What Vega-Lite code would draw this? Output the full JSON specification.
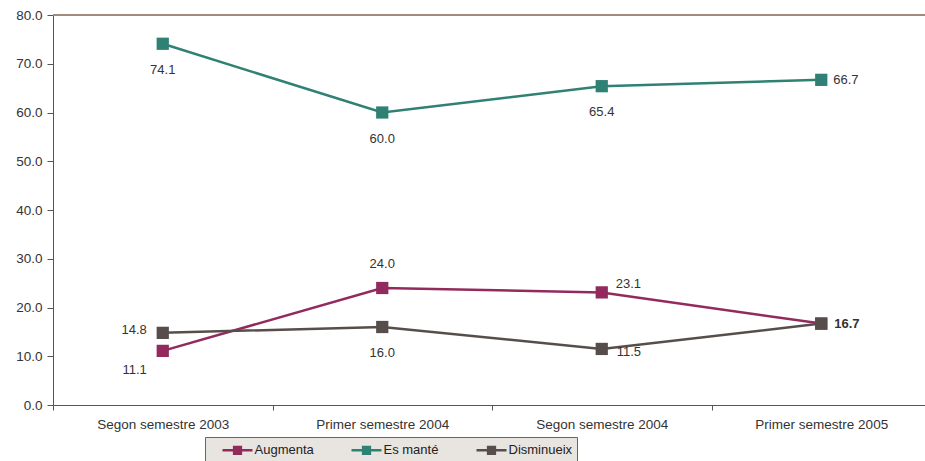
{
  "$schema": "https://vega.github.io/schema/vega-lite/v6.json",
  "autosize": {"type": "none"},
  "padding": {"left": 53, "top": 15, "right": 0, "bottom": 56},
  "width": 878,
  "height": 390,
  "background": "white",
  "config": {
    "view": {"stroke": null},
    "font": "Liberation Sans",
    "axis": {"labelFont": "Liberation Sans", "labelFontSize": 13.5, "labelColor": "#333333", "domainColor": "#555555", "tickColor": "#555555", "grid": false, "title": null}
  },
  "data": {"values": [
    {"periode": "Segon semestre 2003", "serie": "Augmenta", "valor": 11.1},
    {"periode": "Primer semestre 2004", "serie": "Augmenta", "valor": 24.0},
    {"periode": "Segon semestre 2004", "serie": "Augmenta", "valor": 23.1},
    {"periode": "Primer semestre 2005", "serie": "Augmenta", "valor": 16.7},
    {"periode": "Segon semestre 2003", "serie": "Es manté", "valor": 74.1},
    {"periode": "Primer semestre 2004", "serie": "Es manté", "valor": 60.0},
    {"periode": "Segon semestre 2004", "serie": "Es manté", "valor": 65.4},
    {"periode": "Primer semestre 2005", "serie": "Es manté", "valor": 66.7},
    {"periode": "Segon semestre 2003", "serie": "Disminueix", "valor": 14.8},
    {"periode": "Primer semestre 2004", "serie": "Disminueix", "valor": 16.0},
    {"periode": "Segon semestre 2004", "serie": "Disminueix", "valor": 11.5},
    {"periode": "Primer semestre 2005", "serie": "Disminueix", "valor": 16.7}
  ]},
  "encoding": {
    "x": {"field": "periode", "type": "nominal", "sort": null,
      "scale": {"paddingInner": 0, "paddingOuter": 0},
      "axis": {"labelAngle": 0, "tickBand": "extent", "labelPadding": 7, "tickSize": 5, "labelColor": "#333333"}},
    "y": {"field": "valor", "type": "quantitative",
      "scale": {"domain": [0, 80]},
      "axis": {"values": [0,10,20,30,40,50,60,70,80], "format": ".1f", "tickSize": 6, "labelPadding": 5, "labelColor": "#333333"}}
  },
  "layer": [
    {"mark": {"type": "rule", "color": "#a08a80", "strokeWidth": 1}, "encoding": {"y": {"datum": 80}, "x": {"value": 0}, "x2": {"value": 878}}},
    {"mark": {"type": "line", "strokeWidth": 2.5},
      "encoding": {"color": {"field": "serie", "type": "nominal",
        "scale": {"domain": ["Augmenta", "Es manté", "Disminueix"], "range": ["#922a5e", "#2f8174", "#574e4c"]},
        "legend": {"orient": "none", "legendX": 152, "legendY": 422, "direction": "horizontal", "title": null,
          "symbolType": "M-2,0H-0.45M0.45,0H2M-0.45,-0.45H0.45V0.45H-0.45Z", "symbolSize": 225, "symbolStrokeWidth": 2.5,
          "labelFont": "Liberation Sans", "labelFontSize": 13, "labelColor": "#222222",
          "fillColor": "#e8e4e0", "strokeColor": "#666666", "padding": 4, "columnPadding": 24, "symbolOffset": 19.5, "labelOffset": 8}}}},
    {"mark": {"type": "square", "size": 150, "opacity": 1, "filled": true},
      "encoding": {"color": {"field": "serie", "type": "nominal", "legend": null}}},
    {"transform": [{"filter": "(datum.serie == 'Es manté' && datum.periode != 'Primer semestre 2005') || (datum.serie == 'Disminueix' && datum.periode == 'Primer semestre 2004')"}],
      "mark": {"type": "text", "dy": 26, "fontSize": 13, "color": "#333333"},
      "encoding": {"text": {"field": "valor", "type": "quantitative", "format": ".1f"}}},
    {"transform": [{"filter": "datum.serie == 'Augmenta' && datum.periode == 'Primer semestre 2004'"}],
      "mark": {"type": "text", "dy": -24, "fontSize": 13, "color": "#333333"},
      "encoding": {"text": {"field": "valor", "type": "quantitative", "format": ".1f"}}},
    {"transform": [{"filter": "datum.serie == 'Augmenta' && datum.periode == 'Segon semestre 2004'"}],
      "mark": {"type": "text", "dx": 14, "dy": -8, "align": "left", "fontSize": 13, "color": "#333333"},
      "encoding": {"text": {"field": "valor", "type": "quantitative", "format": ".1f"}}},
    {"transform": [{"filter": "datum.serie == 'Augmenta' && datum.periode == 'Segon semestre 2003'"}],
      "mark": {"type": "text", "dx": -16, "dy": 19, "align": "right", "fontSize": 13, "color": "#333333"},
      "encoding": {"text": {"field": "valor", "type": "quantitative", "format": ".1f"}}},
    {"transform": [{"filter": "datum.serie == 'Disminueix' && datum.periode == 'Segon semestre 2003'"}],
      "mark": {"type": "text", "dx": -16, "dy": -3, "align": "right", "fontSize": 13, "color": "#333333"},
      "encoding": {"text": {"field": "valor", "type": "quantitative", "format": ".1f"}}},
    {"transform": [{"filter": "datum.serie == 'Disminueix' && datum.periode == 'Segon semestre 2004'"}],
      "mark": {"type": "text", "dx": 15, "dy": 3, "align": "left", "fontSize": 13, "color": "#333333"},
      "encoding": {"text": {"field": "valor", "type": "quantitative", "format": ".1f"}}},
    {"transform": [{"filter": "datum.serie == 'Es manté' && datum.periode == 'Primer semestre 2005'"}],
      "mark": {"type": "text", "dx": 12, "align": "left", "fontSize": 13, "color": "#333333"},
      "encoding": {"text": {"field": "valor", "type": "quantitative", "format": ".1f"}}},
    {"transform": [{"filter": "datum.serie == 'Disminueix' && datum.periode == 'Primer semestre 2005'"}],
      "mark": {"type": "text", "dx": 13, "align": "left", "fontSize": 13, "fontWeight": "bold", "color": "#333333"},
      "encoding": {"text": {"field": "valor", "type": "quantitative", "format": ".1f"}}}
  ]
}
